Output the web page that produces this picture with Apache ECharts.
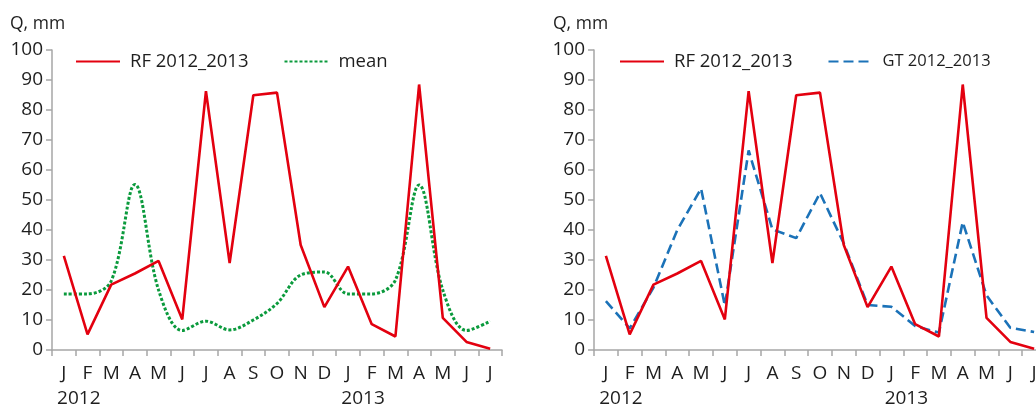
<!DOCTYPE html>
<html>
<head>
<meta charset="utf-8">
<script src="https://cdn.jsdelivr.net/npm/echarts@6/dist/echarts.min.js"></script>
<style>html,body{margin:0;padding:0;background:#fff}#c{width:1036px;height:410px}</style>
</head>
<body>
<div id="c"></div>
<script>
const months = ['J','F','M','A','M','J','J','A','S','O','N','D','J','F','M','A','M','J','J'];
const years = ['2012','','','','','','','','','','','','2013','','','','','',''];
const yTicks = [0,10,20,30,40,50,60,70,80,90,100];
const rf = [31.4,5.2,21.8,25.5,29.7,10.2,86.3,29.0,84.9,85.8,35.0,14.3,27.8,8.6,4.5,88.5,10.7,2.7,0.4];
const mean = [18.7,18.7,23.0,55.2,20.0,6.5,9.6,6.7,10.0,15.5,25.0,26.0,18.7,18.7,23.3,55.0,20.0,6.5,9.6];
const gt = [16.3,7.2,20.8,40.0,53.8,14.8,66.5,40.2,37.3,52.3,35.5,15.0,14.4,8.0,5.8,42.6,18.2,7.4,6.0];

const RED = '#e3000f', GREEN = '#0a9a3c', BLUE = '#1b72b8';
const FONT = 'Open Sans';
const txt = '#1e1e1e';
const axisGrey = '#a6a6a6';

const grids = [
  {left: 52, top: 50, width: 450, height: 300, outerBoundsMode: 'none'},
  {left: 594, top: 50, width: 452, height: 300, outerBoundsMode: 'none'}
];

function monthAxis(g) {
  return {
    type: 'category', gridIndex: g, data: months, boundaryGap: true,
    axisLine: {lineStyle: {color: axisGrey, width: 1.5}},
    axisTick: {show: true, length: 6, interval: 0, alignWithLabel: false, lineStyle: {color: axisGrey, width: 1.5}},
    axisLabel: {interval: 0, margin: 14, fontSize: 19, color: txt, fontFamily: FONT}
  };
}
function yearAxis(g) {
  return {
    type: 'category', gridIndex: g, data: years, position: 'bottom', boundaryGap: true,
    axisLine: {show: false}, axisTick: {show: false},
    axisLabel: {interval: 0, margin: 39, fontSize: 19, color: txt, fontFamily: FONT, padding: [0,0,0,30]}
  };
}
function valAxis(g) {
  return {
    type: 'value', gridIndex: g, min: yTicks[0], max: yTicks[yTicks.length-1], interval: yTicks[1]-yTicks[0],
    splitLine: {show: false},
    axisLine: {show: true, lineStyle: {color: axisGrey, width: 1.5}},
    axisTick: {show: true, length: 6, lineStyle: {color: axisGrey, width: 1.5}},
    axisLabel: {margin: 9, fontSize: 19, color: txt, fontFamily: FONT}
  };
}

const legendBase = {
  itemWidth: 44, itemHeight: 16, itemGap: 35, top: 47,
  itemStyle: {color: 'transparent', borderWidth: 0, opacity: 0},
  textStyle: {fontSize: 18.5, color: txt, fontFamily: FONT, padding: [0,0,0,5]}
};

const chart = echarts.init(document.getElementById('c'), null, {renderer: 'canvas'});
chart.setOption({
  backgroundColor: '#fff',
  animation: false,
  title: [
    {text: 'Q, mm', left: 5, top: 10, textStyle: {fontSize: 17.5, fontWeight: 'normal', color: txt, fontFamily: FONT}},
    {text: 'Q, mm', left: 548, top: 10, textStyle: {fontSize: 17.5, fontWeight: 'normal', color: txt, fontFamily: FONT}}
  ],
  legend: [
    Object.assign({}, legendBase, {left: 70, data: ['RF 2012_2013', 'mean']}),
    Object.assign({}, legendBase, {left: 614,
      data: [{name: 'RF 2012_2013'}, {name: 'GT 2012_2013', textStyle: {fontSize: 16.5}}]})
  ],
  grid: grids,
  xAxis: [monthAxis(0), monthAxis(1), yearAxis(0), yearAxis(1)],
  yAxis: [valAxis(0), valAxis(1)],
  series: [
    {name: 'RF 2012_2013', type: 'line', xAxisIndex: 0, yAxisIndex: 0, data: rf, symbol: 'none',
     lineStyle: {color: RED, width: 2.6}, itemStyle: {color: RED}, z: 3},
    {name: 'mean', type: 'line', xAxisIndex: 0, yAxisIndex: 0, data: mean, symbol: 'none', smooth: 0.35,
     lineStyle: {color: GREEN, width: 3, type: [3, 2]}, itemStyle: {color: GREEN}, z: 2},
    {name: 'RF 2012_2013', type: 'line', xAxisIndex: 1, yAxisIndex: 1, data: rf, symbol: 'none',
     lineStyle: {color: RED, width: 2.6}, itemStyle: {color: RED}, z: 3},
    {name: 'GT 2012_2013', type: 'line', xAxisIndex: 1, yAxisIndex: 1, data: gt, symbol: 'none',
     lineStyle: {color: BLUE, width: 2.6, type: [10, 5]}, itemStyle: {color: BLUE}, z: 2}
  ]
});
</script>
</body>
</html>
